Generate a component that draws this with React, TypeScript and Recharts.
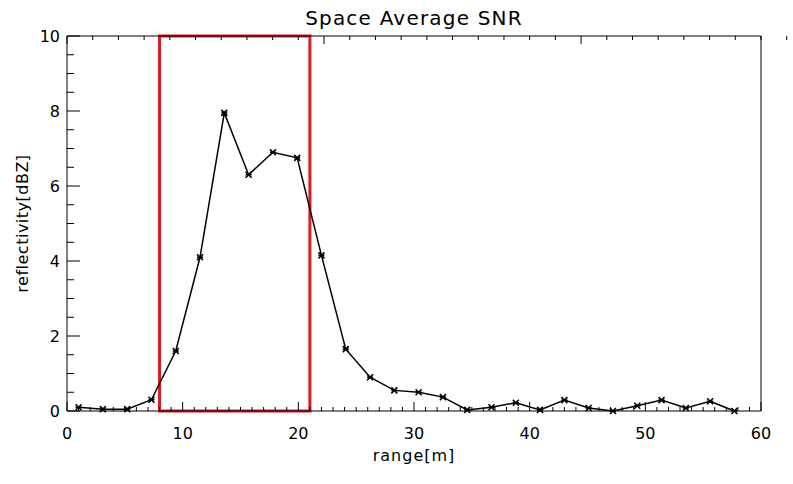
import React from "react";
import {
  LineChart,
  Line,
  XAxis,
  YAxis,
  ReferenceArea,
  Label,
} from "recharts";

const rangeValues = [
  1.0, 3.1, 5.2, 7.3, 9.4, 11.5, 13.6, 15.7, 17.8, 19.9, 22.0, 24.1, 26.2, 28.3,
  30.4, 32.5, 34.6, 36.7, 38.8, 40.9, 43.0, 45.1, 47.2, 49.3, 51.4, 53.5, 55.6, 57.7,
];
const snrValues = [
  0.1, 0.05, 0.05, 0.3, 1.6, 4.1, 7.95, 6.3, 6.9, 6.75, 4.15, 1.65, 0.9, 0.55,
  0.5, 0.37, 0.03, 0.1, 0.22, 0.03, 0.29, 0.08, 0.0, 0.14, 0.29, 0.08, 0.26, 0.0,
];
const xMajorTicks = [0, 10, 20, 30, 40, 50, 60];
const xMinorTicks = Array.from({ length: 61 }, (_, i) => i);
const yMajorTicks = [0, 2, 4, 6, 8, 10];
const yMinorTicks = Array.from({ length: 21 }, (_, i) => i * 0.5);
const highlight = { from: 8, to: 21 };

const data = rangeValues.map((r, i) => ({ range: r, snr: snrValues[i] }));

const FONT = "'DejaVu Sans', sans-serif";

const BottomTick = (props: any) => {
  const { x, y, payload } = props;
  const major = xMajorTicks.includes(payload.value);
  return (
    <g>
      <line x1={x} y1={y} x2={x} y2={y - (major ? 9 : 4)} stroke="#000" strokeWidth={1} />
      {major && (
        <text x={x} y={y + 28} textAnchor="middle" fontSize={16} fontFamily={FONT} fill="#000">
          {payload.value}
        </text>
      )}
    </g>
  );
};

const TopTick = (props: any) => {
  const { x, y, payload } = props;
  const major = xMajorTicks.includes(payload.value);
  return <line x1={x} y1={y} x2={x} y2={y + (major ? 8 : 4)} stroke="#000" strokeWidth={1} />;
};

const LeftTick = (props: any) => {
  const { x, y, payload } = props;
  const major = yMajorTicks.includes(payload.value);
  return (
    <g>
      <line x1={x} y1={y} x2={x + (major ? 13 : 7)} y2={y} stroke="#000" strokeWidth={1} />
      {major && (
        <text x={x - 7} y={y + 6} textAnchor="end" fontSize={16} fontFamily={FONT} fill="#000">
          {payload.value}
        </text>
      )}
    </g>
  );
};

const RightTick = (props: any) => {
  const { x, y, payload } = props;
  const major = yMajorTicks.includes(payload.value);
  return <line x1={x} y1={y} x2={x - (major ? 14 : 7)} y2={y} stroke="#000" strokeWidth={1} />;
};

const StarDot = (props: any) => {
  const { cx, cy } = props;
  if (cx == null || cy == null) return null;
  const s = 3;
  return (
    <g stroke="#000" strokeWidth={1.6}>
      <line x1={cx - s} y1={cy - s} x2={cx + s} y2={cy + s} />
      <line x1={cx - s} y1={cy + s} x2={cx + s} y2={cy - s} />
      <line x1={cx - s} y1={cy} x2={cx + s} y2={cy} />
    </g>
  );
};

export default function App() {
  return (
    <div style={{ position: "absolute", left: 0, top: 0, width: 793, height: 484, background: "#fff" }}>
      <div
        style={{
          position: "absolute",
          left: 67,
          width: 694,
          top: 6,
          textAlign: "center",
          fontFamily: FONT,
          fontSize: 20,
          letterSpacing: 1.2,
          color: "#000",
        }}
      >
        Space Average SNR
      </div>
      <LineChart
        width={793}
        height={484}
        data={data}
        margin={{ top: 35, right: 31, bottom: 0, left: 0 }}
      >
        <XAxis
          xAxisId="main"
          dataKey="range"
          type="number"
          domain={[0, 60]}
          ticks={xMinorTicks}
          interval={0}
          height={73}
          tickSize={0}
          tickMargin={0}
          tickLine={false}
          tick={<BottomTick />}
          axisLine={{ stroke: "#000" }}
        >
          <Label
            value="range[m]"
            position="insideTop"
            offset={39}
            style={{ fontFamily: FONT, fontSize: 16, fill: "#000", letterSpacing: 1 }}
          />
        </XAxis>
        <XAxis
          xAxisId="top"
          orientation="top"
          type="number"
          domain={[0, 60]}
          ticks={xMinorTicks}
          interval={0}
          height={1}
          tickSize={0}
          tickMargin={0}
          tickLine={false}
          tick={<TopTick />}
          axisLine={{ stroke: "#000" }}
        />
        <YAxis
          yAxisId="main"
          type="number"
          domain={[0, 10]}
          ticks={yMinorTicks}
          interval={0}
          width={67}
          tickSize={0}
          tickMargin={0}
          tickLine={false}
          tick={<LeftTick />}
          axisLine={{ stroke: "#000" }}
        >
          <Label
            value="reflectivity[dBZ]"
            angle={-90}
            position="center"
            dx={-11}
            style={{ fontFamily: FONT, fontSize: 16, fill: "#000", letterSpacing: 0.5, textAnchor: "middle" }}
          />
        </YAxis>
        <YAxis
          yAxisId="right"
          orientation="right"
          type="number"
          domain={[0, 10]}
          ticks={yMinorTicks}
          interval={0}
          width={1}
          tickSize={0}
          tickMargin={0}
          tickLine={false}
          tick={<RightTick />}
          axisLine={{ stroke: "#000" }}
        />
        <ReferenceArea
          xAxisId="main"
          yAxisId="main"
          x1={highlight.from}
          x2={highlight.to}
          y1={0}
          y2={10}
          fill="none"
          fillOpacity={0}
          stroke="#dc1c24"
          strokeWidth={3}
        />
        <Line
          xAxisId="main"
          yAxisId="main"
          type="linear"
          dataKey="snr"
          stroke="#000"
          strokeWidth={1.5}
          dot={<StarDot />}
          activeDot={false}
          isAnimationActive={false}
        />
      </LineChart>
    </div>
  );
}
